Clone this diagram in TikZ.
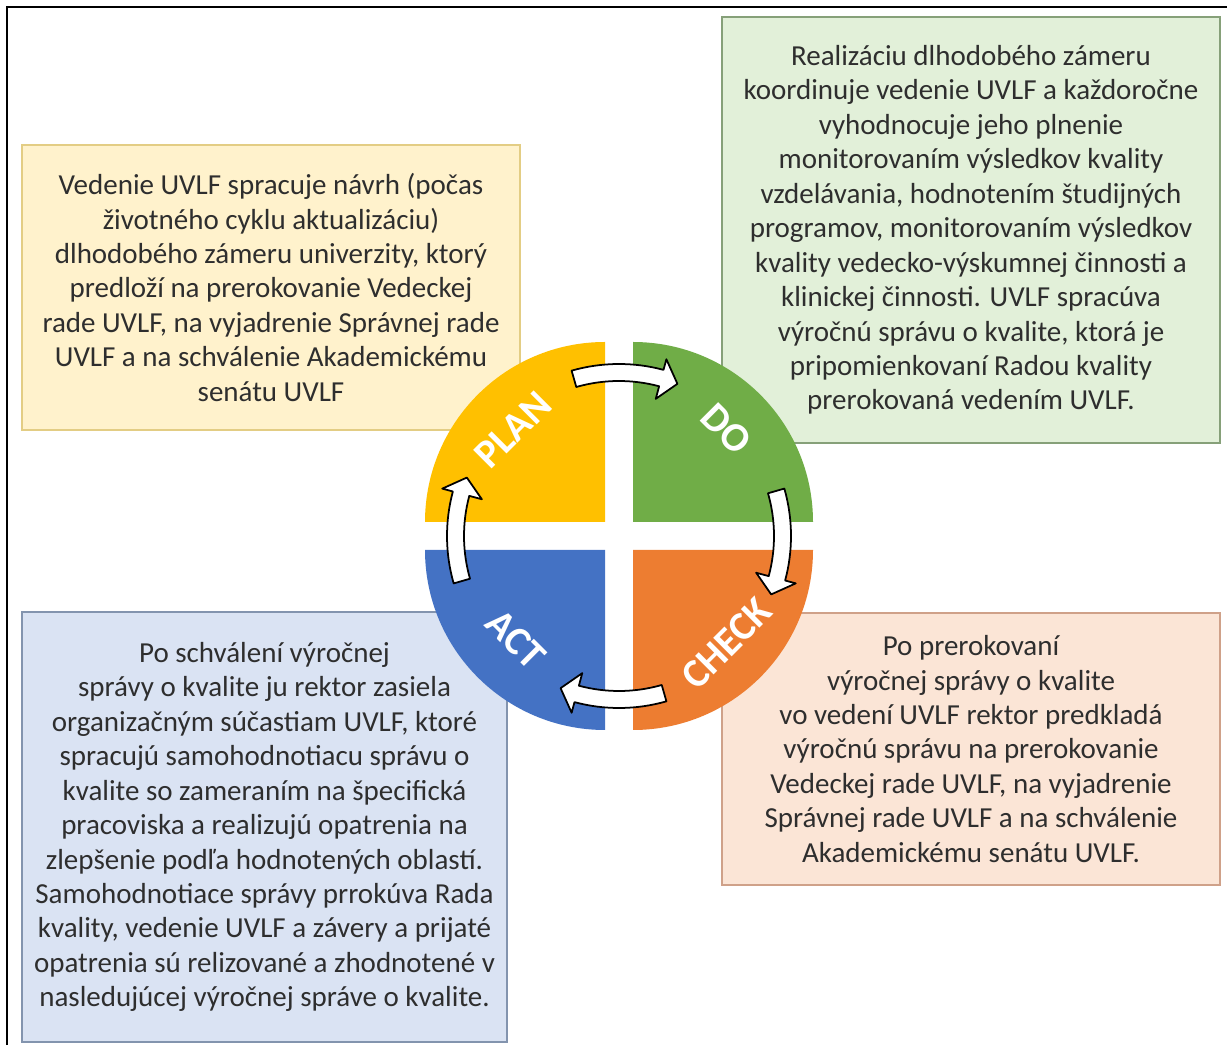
\documentclass[tikz,border=0pt]{standalone}
\usepackage{fontspec}
\setmainfont{Carlito}
\definecolor{plancol}{HTML}{FFC000}
\definecolor{docol}{HTML}{70AD47}
\definecolor{checkcol}{HTML}{ED7D31}
\definecolor{actcol}{HTML}{4472C4}
\definecolor{planfill}{HTML}{FFF2CC}
\definecolor{dofill}{HTML}{E2F0D9}
\definecolor{checkfill}{HTML}{FBE5D6}
\definecolor{actfill}{HTML}{DAE3F3}
\definecolor{planline}{HTML}{E3CD84}
\definecolor{doline}{HTML}{86A079}
\definecolor{checkline}{HTML}{CFA189}
\definecolor{actline}{HTML}{8394AE}
\definecolor{txtcol}{HTML}{2E2E2E}
\begin{document}
\begin{tikzpicture}[x=0.02cm,y=0.02cm,
	infobox/.style={rectangle, line width=1pt, align=center, text=txtcol, inner sep=0pt,
		font=\fontsize{16.5}{19.6}\selectfont},
	pdcalbl/.style={text=white, font=\fontsize{23}{23}\selectfont\bfseries, inner sep=0pt},
	cyclearrow/.style={draw=black, fill=white, line width=1pt, line join=round}]
	\useasboundingbox (0,0) rectangle (1227,1045);
	\draw[line width=1.1pt] (7,0) -- (7,1038) -- (1227,1038);
	\node[infobox, draw=planline, fill=planfill, minimum width=9.96cm, minimum height=5.7cm] (plantext) at (271,757.5) {Vedenie UVLF spracuje návrh (počas\\ životného cyklu aktualizáciu)\\ dlhodobého zámeru univerzity, ktorý\\ predloží na prerokovanie Vedeckej\\ rade UVLF, na vyjadrenie Správnej rade\\ UVLF a na schválenie Akademickému\\ senátu UVLF};
	\node[infobox, draw=doline, fill=dofill, minimum width=9.96cm, minimum height=8.52cm] (dotext) at (971,815) {Realizáciu dlhodobého zámeru\\ koordinuje vedenie UVLF a každoročne\\ vyhodnocuje jeho plnenie\\ monitorovaním výsledkov kvality\\ vzdelávania, hodnotením študijných\\ programov, monitorovaním výsledkov\\ kvality vedecko-výskumnej činnosti a\\ klinickej činnosti. UVLF spracúva\\ výročnú správu o kvalite, ktorá je\\ pripomienkovaní Radou kvality\\ prerokovaná vedením UVLF.};
	\node[infobox, draw=checkline, fill=checkfill, minimum width=9.96cm, minimum height=5.44cm] (checktext) at (971,296) {Po prerokovaní\\ výročnej správy o kvalite\\ vo vedení UVLF rektor predkladá\\ výročnú správu na prerokovanie\\ Vedeckej rade UVLF, na vyjadrenie\\ Správnej rade UVLF a na schválenie\\ Akademickému senátu UVLF.};
	\node[infobox, draw=actline, fill=actfill, minimum width=9.7cm, minimum height=8.6cm] (acttext) at (264.5,218) {Po schválení výročnej\\ správy o kvalite ju rektor zasiela\\ organizačným súčastiam UVLF, ktoré\\ spracujú samohodnotiacu správu o\\ kvalite so zameraním na špecifická\\ pracoviska a realizujú opatrenia na\\ zlepšenie podľa hodnotených oblastí.\\ Samohodnotiace správy prrokúva Rada\\ kvality, vedenie UVLF a závery a prijaté\\ opatrenia sú relizované a zhodnotené v\\ nasledujúcej výročnej správe o kvalite.};
	\coordinate (cyc) at (619,509);
	\begin{scope}[shift={(cyc)}]
		\foreach \a/\col in {90/plancol, 0/docol, -90/checkcol, 180/actcol}
			\fill[\col] (\a+45:19.8) -- ++(\a+90:180) arc[start angle=\a+90, end angle=\a, radius=180] -- cycle;
		\node[pdcalbl, rotate=45] (plan) at (135:150) {PLAN};
		\node[pdcalbl, rotate=-45] (do) at (45:152) {DO};
		\node[pdcalbl, rotate=45] (check) at (-45:152) {CHECK};
		\node[pdcalbl, rotate=-45] (act) at (-135:146) {ACT};
		\foreach \k in {90,0,-90,-180}
			\draw[cyclearrow] (\k+16:172) arc[start angle=\k+16, end angle=\k-15, radius=172]
				-- (\k-15:183) -- (\k-21:163) -- (\k-15:142) -- (\k-15:155)
				arc[start angle=\k-15, end angle=\k+16, radius=155] -- cycle;
	\end{scope}
\end{tikzpicture}
\end{document}
